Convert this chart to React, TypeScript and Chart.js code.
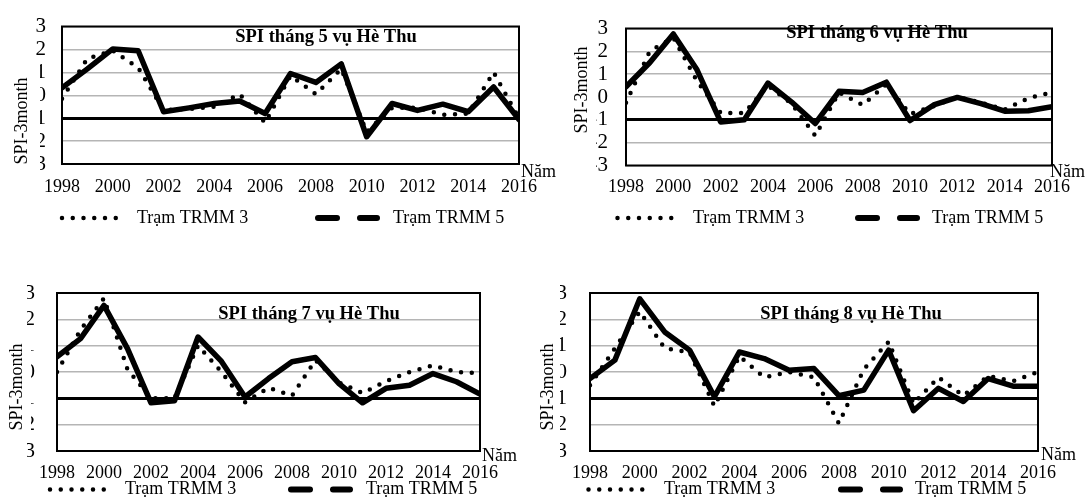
import React, { useEffect, useRef } from "react";
import { Chart, registerables } from "chart.js";

Chart.register(...registerables);

// ---------- data ----------
const YEARS = [1998, 1999, 2000, 2001, 2002, 2003, 2004, 2005, 2006, 2007, 2008, 2009, 2010, 2011, 2012, 2013, 2014, 2015, 2016];
const SERIES_LABELS = ["Trạm TRMM 3", "Trạm TRMM 5"];
const PANEL_TITLES = ["SPI tháng 5 vụ Hè Thu", "SPI tháng 6 vụ Hè Thu", "SPI tháng 7 vụ Hè Thu", "SPI tháng 8 vụ Hè Thu"];
const Y_TITLE = "SPI-3month";
const X_UNIT = "Năm";

const TRMM3_M5 = [-0.15, 1.6, 1.95, 1.2, -0.65, -0.6, -0.5, 0.05, -1.2, 0.85, 0.05, 1.15, -1.6, -0.55, -0.55, -0.85, -0.8, 1.0, -1.0];
const TRMM5_M5 = [0.32, 1.15, 2.02, 1.94, -0.72, -0.55, -0.36, -0.25, -0.8, 0.95, 0.56, 1.37, -1.81, -0.36, -0.66, -0.39, -0.72, 0.36, -1.06];

const TRMM3_M6 = [-0.25, 2.0, 2.6, 0.7, -0.7, -0.7, 0.5, -0.3, -1.7, 0.2, -0.35, 0.55, -0.75, -0.4, 0.0, -0.25, -0.55, -0.05, 0.2];
const TRMM5_M6 = [0.45, 1.5, 2.76, 1.19, -1.09, -1.0, 0.61, -0.22, -1.16, 0.25, 0.2, 0.65, -1.03, -0.35, -0.02, -0.29, -0.62, -0.6, -0.42];

const TRMM3_M7 = [0.0, 1.6, 2.8, 0.1, -1.0, -1.0, 1.0, 0.0, -1.15, -0.6, -0.9, 0.45, -0.4, -0.8, -0.35, 0.0, 0.25, 0.0, -0.05];
const TRMM5_M7 = [0.58, 1.27, 2.53, 0.89, -1.17, -1.09, 1.33, 0.4, -0.95, -0.25, 0.39, 0.55, -0.44, -1.17, -0.62, -0.5, -0.06, -0.37, -0.84];

const TRMM3_M8 = [-0.5, 0.9, 2.3, 0.9, 0.75, -1.3, 0.6, -0.2, 0.0, -0.2, -1.95, 0.1, 1.15, -1.2, -0.2, -0.9, -0.15, -0.35, 0.0];
const TRMM5_M8 = [-0.25, 0.45, 2.78, 1.52, 0.83, -0.94, 0.76, 0.51, 0.07, 0.13, -0.9, -0.69, 0.83, -1.47, -0.62, -1.12, -0.25, -0.54, -0.54];

// ---------- layout (page coordinates) ----------
const W = 1085;
const H = 498;
const FONT = "'Liberation Serif', 'Times New Roman', serif";

const PANELS = [
  {
    title: PANEL_TITLES[0], t3: TRMM3_M5, t5: TRMM5_M5,
    L: 62, R: 519, T: 17, B: 164, yPad: 16, xPad: 12,
    titleX: 326, titleY: 37, namX: 521, namY: 172,
    yTitleX: 22, yTitleY: 121, box: [0, 58, 40, 114],
    legY: 218, leg: [[62, 126.5, 137], [318, 377, 393]],
  },
  {
    title: PANEL_TITLES[1], t3: TRMM3_M6, t5: TRMM5_M6,
    L: 626, R: 1052, T: 17, B: 165.5, yPad: 18, xPad: 11,
    titleX: 877, titleY: 33, namX: 1050, namY: 172,
    yTitleX: 582, yTitleY: 90, box: [565, 40, 31.5, 100],
    legY: 218, leg: [[617.5, 681.5, 693], [858, 917, 932]],
  },
  {
    title: PANEL_TITLES[2], t3: TRMM3_M7, t5: TRMM5_M7,
    L: 57, R: 480, T: 293, B: 451, yPad: 22, xPad: 11,
    titleX: 309, titleY: 314, namX: 482, namY: 456,
    yTitleX: 17, yTitleY: 387, box: [0, 330, 31, 112],
    legY: 489.5, leg: [[50, 114.5, 125], [291, 350, 366]],
  },
  {
    title: PANEL_TITLES[3], t3: TRMM3_M8, t5: TRMM5_M8,
    L: 590, R: 1038, T: 293, B: 451, yPad: 23, xPad: 11,
    titleX: 851, titleY: 314, namX: 1041, namY: 455,
    yTitleX: 548, yTitleY: 387, box: [535, 330, 22, 112],
    legY: 489.5, leg: [[588.5, 652.5, 664], [841, 900, 915]],
  },
];

const Y_AXIS_W = 30;
const X_AXIS_H = 40;

const LEGEND_STYLES = [
  { width: 4.5, dash: [0, 10.75], cap: "round" },
  { width: 6, dash: [19, 23], cap: "round" },
];

const decorPlugin = {
  id: "decor",
  afterDatasetsDraw(chart: any) {
    const { ctx, chartArea: a } = chart;
    ctx.save();
    ctx.strokeStyle = "#000";
    ctx.lineWidth = 2;
    ctx.strokeRect(a.left, a.top, a.right - a.left, a.bottom - a.top);
    ctx.restore();
  },
  afterDraw(chart: any, _args: any, opts: any) {
    const p = opts.panel;
    if (!p) return;
    const ctx = chart.ctx;
    ctx.save();
    ctx.fillStyle = "#000";
    ctx.textBaseline = "middle";
    // title inside plot
    ctx.font = `bold 18.5px ${FONT}`;
    ctx.textAlign = "center";
    ctx.fillText(p.title, p.titleX, p.titleY);
    // x unit
    ctx.font = `18px ${FONT}`;
    ctx.textAlign = "left";
    ctx.fillText(X_UNIT, p.namX, p.namY);
    // y title with white box
    ctx.fillStyle = "#fff";
    ctx.fillRect(p.box[0], p.box[1], p.box[2], p.box[3]);
    ctx.fillStyle = "#000";
    ctx.save();
    ctx.translate(p.yTitleX, p.yTitleY);
    ctx.rotate(-Math.PI / 2);
    ctx.textAlign = "center";
    ctx.font = `18px ${FONT}`;
    ctx.fillText(Y_TITLE, 0, 0);
    ctx.restore();
    // legend
    chart.data.datasets.forEach((ds: any, i: number) => {
      const st = LEGEND_STYLES[i];
      const [x0, x1, tx] = p.leg[i];
      ctx.save();
      ctx.strokeStyle = "#000";
      ctx.lineWidth = st.width;
      ctx.lineCap = st.cap;
      ctx.setLineDash(st.dash);
      ctx.beginPath();
      ctx.moveTo(x0, p.legY);
      ctx.lineTo(x1, p.legY);
      ctx.stroke();
      ctx.restore();
      ctx.font = `18px ${FONT}`;
      ctx.textAlign = "left";
      ctx.fillStyle = "#000";
      ctx.fillText(ds.label, tx, p.legY);
    });
    ctx.restore();
  },
};

function makeConfig(p: any): any {
  return {
    type: "line",
    data: {
      datasets: [
        {
          label: SERIES_LABELS[0],
          data: YEARS.map((x, i) => ({ x, y: p.t3[i] })),
          borderColor: "#000",
          borderWidth: 4.5,
          borderDash: [0, 10.75],
          borderCapStyle: "round",
          borderJoinStyle: "round",
          pointRadius: 0,
          tension: 0,
          fill: false,
        },
        {
          label: SERIES_LABELS[1],
          data: YEARS.map((x, i) => ({ x, y: p.t5[i] })),
          borderColor: "#000",
          borderWidth: 5.5,
          borderCapStyle: "round",
          borderJoinStyle: "round",
          pointRadius: 0,
          tension: 0,
          fill: false,
        },
      ],
    },
    options: {
      responsive: false,
      animation: false,
      devicePixelRatio: 1,
      layout: {
        padding: {
          left: p.L - Y_AXIS_W,
          right: W - p.R,
          top: p.T,
          bottom: H - p.B - X_AXIS_H,
        },
      },
      plugins: {
        legend: { display: false },
        tooltip: { enabled: false },
        decor: { panel: p },
      },
      scales: {
        x: {
          type: "linear",
          min: 1998,
          max: 2016,
          grid: { display: false, drawTicks: false },
          border: { display: false },
          ticks: {
            stepSize: 2,
            autoSkip: false,
            maxRotation: 0,
            padding: p.xPad,
            color: "#000",
            font: { family: FONT, size: 18, lineHeight: 1.2 },
            callback: (v: any) => String(v),
          },
          afterFit: (s: any) => {
            s.height = X_AXIS_H;
          },
        },
        y: {
          min: -3,
          max: 3,
          grid: {
            drawTicks: false,
            color: (c: any) => (c.tick && c.tick.value === -1 ? "#000" : "#b5b5b5"),
            lineWidth: (c: any) => (c.tick && c.tick.value === -1 ? 3 : 1.5),
          },
          border: { display: false },
          ticks: {
            stepSize: 1,
            autoSkip: false,
            padding: p.yPad,
            color: "#000",
            font: { family: FONT, size: 21, lineHeight: 1.0 },
            callback: (v: any) => String(v),
          },
          afterFit: (s: any) => {
            s.width = Y_AXIS_W;
          },
        },
      },
    },
    plugins: [decorPlugin],
  };
}

export default function App() {
  const refs = [useRef<HTMLCanvasElement>(null), useRef<HTMLCanvasElement>(null), useRef<HTMLCanvasElement>(null), useRef<HTMLCanvasElement>(null)];
  useEffect(() => {
    const charts = PANELS.map((p, i) => new Chart(refs[i].current as HTMLCanvasElement, makeConfig(p)));
    return () => charts.forEach((c) => c.destroy());
  }, []);
  return (
    <div style={{ position: "absolute", left: 0, top: 0, width: W, height: H, background: "#fff", overflow: "hidden" }}>
      {refs.map((r, i) => (
        <canvas
          key={i}
          ref={r}
          width={W}
          height={H}
          style={{ position: "absolute", left: 0, top: 0, width: W, height: H }}
        />
      ))}
    </div>
  );
}
